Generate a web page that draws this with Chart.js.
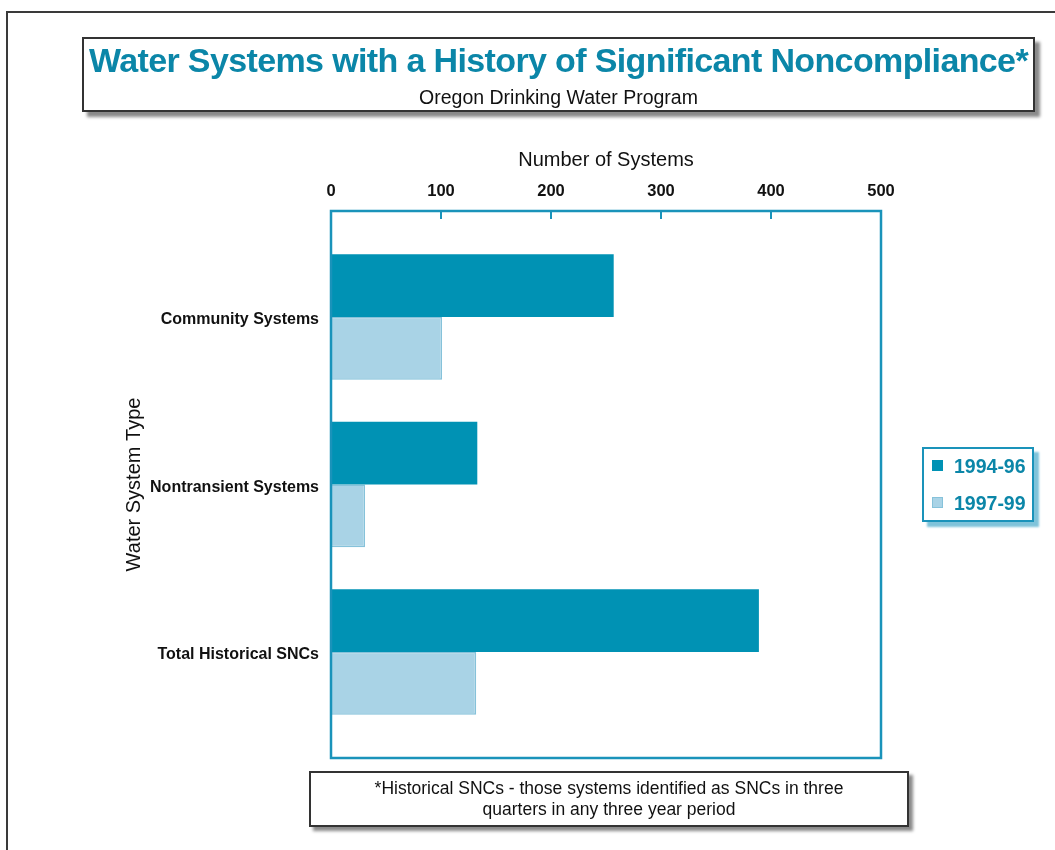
<!DOCTYPE html>
<html>
<head>
<meta charset="utf-8">
<title>Water Systems with a History of Significant Noncompliance</title>
<script src="https://cdn.jsdelivr.net/npm/chart.js@4/dist/chart.umd.min.js"></script>
<style>
html, body { margin: 0; padding: 0; background: #fff; }
body { width: 1055px; height: 850px; position: relative; overflow: hidden; font-family: "Liberation Sans", Arial, sans-serif; }
#frame { position: absolute; left: 6px; top: 11px; width: 1100px; height: 900px; border: 2px solid #3a3a3a; }
#chartWrap { position: absolute; left: 0; top: 0; width: 1055px; height: 850px; }
#titleBox { position: absolute; left: 82px; top: 37px; width: 949px; height: 71px; border: 2px solid #333; background: #fff; box-shadow: 5px 5px 3px #8a8a8a; }
#title { position: absolute; left: 0; top: 4px; width: 100%; text-align: center; white-space: nowrap; color: #0b86a8; font-weight: bold; font-size: 34px; line-height: 34px; }
#subtitle { position: absolute; left: 0; top: 48px; width: 100%; text-align: center; color: #111; font-size: 19.5px; line-height: 20px; }
#legend { position: absolute; left: 922px; top: 447px; width: 108px; height: 71px; border: 2px solid #1a93ba; background: #fff; box-shadow: 5px 5px 2px #7fc3da; }
.item { position: absolute; left: 8px; height: 22px; font-weight: bold; font-size: 19.5px; line-height: 22px; color: #0b86a8; white-space: nowrap; }
.swatch { display: inline-block; width: 11px; height: 11px; margin-right: 11px; vertical-align: 2px; box-sizing: border-box; }
#note { position: absolute; left: 309px; top: 771px; width: 596px; height: 52px; border: 2px solid #333; background: #fff; box-shadow: 4px 4px 3px #8a8a8a; text-align: center; font-size: 17.5px; line-height: 21px; color: #111; }
#note div { padding-top: 5px; }
</style>
</head>
<body>
<div id="frame"></div>
<div id="chartWrap"><canvas id="snc-chart" width="1055" height="850"></canvas></div>
<div id="titleBox">
    <div id="title"><span id="titleText">Water Systems with a History of Significant Noncompliance*</span></div>
    <div id="subtitle">Oregon Drinking Water Program</div>
</div>
<div id="legend"></div>
<div id="note"><div>*Historical SNCs - those systems identified as SNCs in three<br>quarters in any three year period</div></div>
<script>
// Chart data
const categories = ['Community Systems', 'Nontransient Systems', 'Total Historical SNCs'];
const seriesLabels = ['1994-96', '1997-99'];
const values9496 = [257, 133, 389];
const values9799 = [101, 31, 132];
const xTicks = [0, 100, 200, 300, 400, 500];

const darkFill = '#0092b4';
const lightFill = '#a9d3e6';
const lightEdge = '#86c2da';
const frameTeal = '#1a93ba';

// Squeeze the title so it spans the box like the original tight type
const titleText = document.getElementById('titleText');
const wantWidth = 939;
const gotWidth = titleText.getBoundingClientRect().width;
titleText.style.letterSpacing = ((wantWidth - gotWidth) / titleText.textContent.length) + 'px';

// Box round the plot area plus small inner tick marks on the top edge
const plotFrame = {
    id: 'plotFrame',
    afterDraw(chart) {
        const { ctx, chartArea, scales } = chart;
        ctx.save();
        ctx.strokeStyle = frameTeal;
        ctx.lineWidth = 2.5;
        ctx.strokeRect(chartArea.left, chartArea.top, chartArea.right - chartArea.left, chartArea.bottom - chartArea.top);
        ctx.lineWidth = 2;
        scales.x.ticks.forEach(t => {
            const px = scales.x.getPixelForValue(t.value);
            ctx.beginPath();
            ctx.moveTo(px, chartArea.top);
            ctx.lineTo(px, chartArea.top + 8);
            ctx.stroke();
        });
        ctx.restore();
    }
};

const toPoints = vals => vals.map((v, i) => ({ x: v, y: i }));

const ctx = document.getElementById('snc-chart').getContext('2d');
const sncChart = new Chart(ctx, {
    type: 'bar',
    data: {
        datasets: [{
            label: seriesLabels[0],
            data: toPoints(values9496),
            backgroundColor: darkFill,
            borderColor: darkFill,
            borderWidth: 0
        }, {
            label: seriesLabels[1],
            data: toPoints(values9799),
            backgroundColor: lightFill,
            borderColor: lightEdge,
            borderWidth: 1.5,
            borderSkipped: 'left'
        }]
    },
    options: {
        indexAxis: 'y',
        responsive: false,
        animation: false,
        categoryPercentage: 0.75,
        barPercentage: 1.0,
        layout: { padding: { left: 100, top: 140, right: 174, bottom: 92 } },
        plugins: {
            legend: { display: false },
            tooltip: { enabled: false }
        },
        scales: {
            x: {
                type: 'linear',
                position: 'top',
                min: 0,
                max: 500,
                afterBuildTicks: axis => { axis.ticks = xTicks.map(v => ({ value: v })); },
                afterFit: axis => { axis.height = 71; },
                grid: { display: false, drawTicks: false },
                border: { display: false },
                ticks: { color: '#111', font: { family: 'Liberation Sans', size: 16.5, weight: 'bold' }, padding: 10, maxRotation: 0 },
                title: {
                    display: true,
                    text: 'Number of Systems',
                    color: '#111',
                    font: { family: 'Liberation Sans', size: 20 },
                    padding: { top: 8, bottom: 0 }
                }
            },
            y: {
                type: 'linear',
                reverse: true,
                offset: false,
                min: -0.633,
                max: 2.633,
                afterBuildTicks: axis => { axis.ticks = categories.map((c, i) => ({ value: i })); },
                afterFit: axis => { axis.width = 231; },
                grid: { display: false, drawTicks: false, offset: false },
                border: { display: false },
                ticks: {
                    color: '#111',
                    font: { family: 'Liberation Sans', size: 16, weight: 'bold' },
                    padding: 12,
                    labelOffset: 3,
                    callback: v => categories[v]
                },
                title: {
                    display: true,
                    text: 'Water System Type',
                    color: '#111',
                    font: { family: 'Liberation Sans', size: 20 },
                    padding: { top: 22, bottom: 0 }
                }
            }
        }
    },
    plugins: [plotFrame]
});

// Legend box built from the datasets
const legendBox = document.getElementById('legend');
sncChart.data.datasets.forEach((ds, i) => {
    const item = document.createElement('div');
    item.className = 'item';
    item.style.top = (6 + i * 37) + 'px';
    const sw = document.createElement('span');
    sw.className = 'swatch';
    sw.style.background = ds.backgroundColor;
    sw.style.border = '1px solid ' + ds.borderColor;
    item.appendChild(sw);
    item.appendChild(document.createTextNode(ds.label));
    legendBox.appendChild(item);
});
</script>
</body>
</html>
